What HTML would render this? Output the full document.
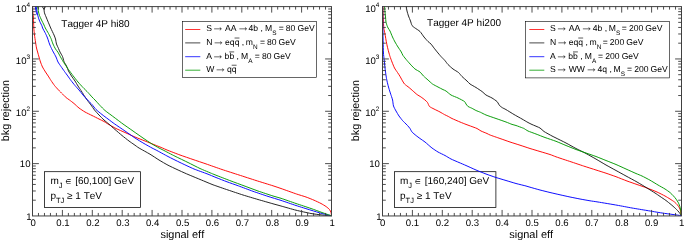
<!DOCTYPE html>
<html><head><meta charset="utf-8"><title>ROC</title>
<style>html,body{margin:0;padding:0;background:#fff;overflow:hidden}svg{display:block;will-change:transform}</style>
</head><body>
<svg width="685" height="240" viewBox="0 0 685 240" font-family="Liberation Sans, Arial, Helvetica, sans-serif" fill="#000" style="font-kerning:none;text-rendering:geometricPrecision">
<rect x="0" y="0" width="685" height="240" fill="#fff"/>
<rect x="44.50" y="171.70" width="96.00" height="35.80" fill="none" stroke="#000" stroke-width="0.75"/>
<clipPath id="c0"><rect x="32.00" y="6.10" width="300.00" height="210.35"/></clipPath>
<g clip-path="url(#c0)" fill="none" stroke-width="0.95" stroke-linejoin="round">
<path d="M32.60 6.00 C32.62 6.60 32.72 10.90 32.80 12.00 C32.88 13.10 33.30 15.40 33.40 17.00 C33.50 18.60 33.69 26.20 33.80 28.00 C33.91 29.80 34.33 33.60 34.50 35.00 C34.67 36.40 35.30 40.70 35.50 42.00 C35.70 43.30 36.29 47.00 36.50 48.00 C36.71 49.00 37.35 51.10 37.60 52.00 C37.85 52.90 38.71 56.00 39.00 57.00 C39.29 58.00 40.15 61.00 40.50 62.00 C40.85 63.00 42.00 66.00 42.50 67.00 C43.00 68.00 44.93 71.10 45.50 72.00 C46.07 72.90 47.65 75.15 48.20 76.00 C48.75 76.85 50.37 79.55 51.00 80.50 C51.63 81.45 53.75 84.55 54.50 85.50 C55.25 86.45 57.70 89.15 58.50 90.00 C59.30 90.85 61.75 93.25 62.50 94.00 C63.25 94.75 65.30 96.90 66.00 97.50 C66.70 98.10 68.70 99.40 69.50 100.00 C70.30 100.60 73.05 102.70 74.00 103.50 C74.95 104.30 77.90 107.15 79.00 108.00 C80.10 108.85 83.70 111.25 85.00 112.00 C86.30 112.75 90.60 114.80 92.00 115.50 C93.40 116.20 97.80 118.40 99.00 119.00 C100.20 119.60 103.15 121.03 104.00 121.50 C104.85 121.97 106.30 123.00 107.50 123.70 C108.70 124.40 114.25 127.62 116.00 128.50 C117.75 129.38 123.10 131.65 125.00 132.50 C126.90 133.35 133.00 136.15 135.00 137.00 C137.00 137.85 143.00 140.20 145.00 141.00 C147.00 141.80 153.25 144.30 155.00 145.00 C156.75 145.70 161.30 147.50 162.50 148.00 C163.70 148.50 165.25 149.30 167.00 150.00 C168.75 150.70 177.40 154.05 180.00 155.00 C182.60 155.95 190.40 158.61 193.00 159.50 C195.60 160.39 203.10 162.90 206.00 163.90 C208.90 164.90 218.70 168.39 222.00 169.50 C225.30 170.61 235.60 173.90 239.00 175.00 C242.40 176.10 252.60 179.42 256.00 180.50 C259.40 181.58 270.50 185.00 273.00 185.80 C275.50 186.60 278.65 187.68 281.00 188.50 C283.35 189.32 294.00 193.15 296.50 194.00 C299.00 194.85 304.25 196.38 306.00 197.00 C307.75 197.62 312.50 199.55 314.00 200.20 C315.50 200.85 319.80 202.87 321.00 203.50 C322.20 204.13 325.15 205.90 326.00 206.50 C326.85 207.10 329.00 208.90 329.50 209.50 C330.00 210.10 330.80 211.90 331.00 212.50 C331.20 213.10 331.45 215.20 331.50 215.50" stroke="#ff0000"/>
<path d="M45.6 6.0 L44.0 9.5 L42.0 6.0 M44.00 9.50 C44.05 9.85 44.25 12.15 44.50 13.00 C44.75 13.85 46.05 16.90 46.50 18.00 C46.95 19.10 48.58 23.00 49.00 24.00 C49.42 25.00 50.20 26.90 50.70 28.00 C51.20 29.10 53.52 33.90 54.00 35.00 C54.48 36.10 55.25 38.10 55.50 39.00 C55.75 39.90 56.20 43.05 56.50 44.00 C56.80 44.95 58.15 47.70 58.50 48.50 C58.85 49.30 59.60 51.20 60.00 52.00 C60.40 52.80 62.10 55.55 62.50 56.50 C62.90 57.45 63.60 60.55 64.00 61.50 C64.40 62.45 66.05 65.05 66.50 66.00 C66.95 66.95 68.00 70.00 68.50 71.00 C69.00 72.00 70.85 75.00 71.50 76.00 C72.15 77.00 74.35 80.00 75.00 81.00 C75.65 82.00 77.40 85.05 78.00 86.00 C78.60 86.95 80.45 89.65 81.00 90.50 C81.55 91.35 82.85 93.50 83.50 94.50 C84.15 95.50 86.75 99.45 87.50 100.50 C88.25 101.55 90.30 104.05 91.00 105.00 C91.70 105.95 93.70 109.00 94.50 110.00 C95.30 111.00 98.05 114.00 99.00 115.00 C99.95 116.00 103.02 119.10 104.00 120.00 C104.98 120.90 107.70 123.05 108.80 124.00 C109.90 124.95 113.68 128.35 115.00 129.50 C116.32 130.65 120.60 134.35 122.00 135.50 C123.40 136.65 127.80 140.10 129.00 141.00 C130.20 141.90 133.00 143.80 134.00 144.50 C135.00 145.20 137.40 147.03 139.00 148.00 C140.60 148.97 148.00 153.00 150.00 154.20 C152.00 155.40 157.20 158.90 159.00 160.00 C160.80 161.10 166.20 164.25 168.00 165.20 C169.80 166.15 175.15 168.64 177.00 169.50 C178.85 170.36 183.70 172.60 186.50 173.80 C189.30 175.00 202.35 180.40 205.00 181.50 C207.65 182.60 210.70 183.95 213.00 184.80 C215.30 185.65 225.00 188.98 228.00 190.00 C231.00 191.02 240.00 194.05 243.00 195.00 C246.00 195.95 255.00 198.62 258.00 199.50 C261.00 200.38 270.70 203.15 273.00 203.80 C275.30 204.45 278.70 205.36 281.00 206.00 C283.30 206.64 293.00 209.45 296.00 210.20 C299.00 210.95 308.40 213.02 311.00 213.50 C313.60 213.98 319.95 214.77 322.00 215.00 C324.05 215.23 330.55 215.72 331.50 215.80" stroke="#1a1a1a"/>
<path d="M36.30 6.00 C36.34 6.40 36.58 9.20 36.70 10.00 C36.82 10.80 37.32 13.20 37.50 14.00 C37.68 14.80 38.25 17.20 38.50 18.00 C38.75 18.80 39.65 21.20 40.00 22.00 C40.35 22.80 41.74 25.40 42.00 26.00 C42.26 26.60 42.25 27.25 42.60 28.00 C42.95 28.75 45.01 32.50 45.50 33.50 C45.99 34.50 47.10 36.95 47.50 38.00 C47.90 39.05 49.10 42.95 49.50 44.00 C49.90 45.05 51.12 47.70 51.50 48.50 C51.88 49.30 52.85 51.15 53.30 52.00 C53.75 52.85 55.53 56.00 56.00 57.00 C56.47 58.00 57.50 61.05 58.00 62.00 C58.50 62.95 60.35 65.55 61.00 66.50 C61.65 67.45 63.82 70.55 64.50 71.50 C65.18 72.45 67.15 75.10 67.80 76.00 C68.45 76.90 70.28 79.55 71.00 80.50 C71.72 81.45 74.20 84.55 75.00 85.50 C75.80 86.45 78.20 89.05 79.00 90.00 C79.80 90.95 82.15 94.00 83.00 95.00 C83.85 96.00 86.60 99.05 87.50 100.00 C88.40 100.95 91.15 103.55 92.00 104.50 C92.85 105.45 95.00 108.50 96.00 109.50 C97.00 110.50 100.80 113.55 102.00 114.50 C103.20 115.45 106.73 118.05 108.00 119.00 C109.27 119.95 113.00 122.80 114.70 124.00 C116.40 125.20 122.97 129.60 125.00 131.00 C127.03 132.40 133.10 136.75 135.00 138.00 C136.90 139.25 142.30 142.50 144.00 143.50 C145.70 144.50 150.80 147.35 152.00 148.00 C153.20 148.65 154.40 149.15 156.00 150.00 C157.60 150.85 165.60 155.25 168.00 156.50 C170.40 157.75 177.40 161.25 180.00 162.50 C182.60 163.75 191.30 167.87 194.00 169.00 C196.70 170.13 204.80 172.95 207.00 173.80 C209.20 174.65 214.00 176.70 216.00 177.50 C218.00 178.30 224.75 180.96 227.00 181.80 C229.25 182.64 235.90 184.95 238.50 185.90 C241.10 186.85 250.05 190.25 253.00 191.30 C255.95 192.35 265.20 195.49 268.00 196.40 C270.80 197.31 278.20 199.49 281.00 200.40 C283.80 201.31 293.00 204.52 296.00 205.50 C299.00 206.48 308.40 209.40 311.00 210.20 C313.60 211.00 319.95 212.94 322.00 213.50 C324.05 214.06 330.55 215.57 331.50 215.80" stroke="#0000ff"/>
<path d="M37.50 6.00 C37.60 6.60 38.30 11.05 38.50 12.00 C38.70 12.95 39.20 14.70 39.50 15.50 C39.80 16.30 41.05 19.05 41.50 20.00 C41.95 20.95 43.62 24.20 44.00 25.00 C44.38 25.80 44.85 27.15 45.30 28.00 C45.75 28.85 47.93 32.45 48.50 33.50 C49.07 34.55 50.55 37.45 51.00 38.50 C51.45 39.55 52.55 42.95 53.00 44.00 C53.45 45.05 55.02 48.20 55.50 49.00 C55.98 49.80 57.35 51.30 57.80 52.00 C58.25 52.70 59.53 55.15 60.00 56.00 C60.47 56.85 62.00 59.65 62.50 60.50 C63.00 61.35 64.40 63.60 65.00 64.50 C65.60 65.40 67.70 68.38 68.50 69.50 C69.30 70.62 72.05 74.45 73.00 75.70 C73.95 76.95 77.00 80.82 78.00 82.00 C79.00 83.18 82.00 86.45 83.00 87.50 C84.00 88.55 87.10 91.55 88.00 92.50 C88.90 93.45 91.30 96.25 92.00 97.00 C92.70 97.75 94.20 99.15 95.00 100.00 C95.80 100.85 99.00 104.45 100.00 105.50 C101.00 106.55 103.90 109.55 105.00 110.50 C106.10 111.45 109.80 114.10 111.00 115.00 C112.20 115.90 115.80 118.60 117.00 119.50 C118.20 120.40 121.40 122.85 123.00 124.00 C124.60 125.15 131.00 129.60 133.00 131.00 C135.00 132.40 141.10 136.70 143.00 138.00 C144.90 139.30 150.40 143.00 152.00 144.00 C153.60 145.00 157.90 147.40 159.00 148.00 C160.10 148.60 161.40 149.18 163.00 150.00 C164.60 150.82 172.50 154.95 175.00 156.20 C177.50 157.45 185.50 161.27 188.00 162.50 C190.50 163.73 197.55 167.37 200.00 168.50 C202.45 169.63 210.70 173.05 212.50 173.80 C214.30 174.55 216.15 175.28 218.00 176.00 C219.85 176.72 228.40 180.02 231.00 181.00 C233.60 181.98 241.30 184.80 244.00 185.80 C246.70 186.80 255.10 189.98 258.00 191.00 C260.90 192.02 270.70 195.27 273.00 196.00 C275.30 196.73 278.70 197.55 281.00 198.30 C283.30 199.05 293.00 202.48 296.00 203.50 C299.00 204.52 308.40 207.60 311.00 208.50 C313.60 209.40 319.95 211.77 322.00 212.50 C324.05 213.23 330.55 215.47 331.50 215.80" stroke="#009900"/>
<path d="M35.3 6 L35.6 9 L36.4 12.5 L37.3 15" stroke="#0000ff"/>
</g>
<rect x="32.50" y="6.60" width="299.00" height="209.35" fill="none" stroke="#404040" stroke-width="1"/>
<path d="M38.48 215.95 v-3.00 M38.48 6.60 v3.00 M44.46 215.95 v-3.00 M44.46 6.60 v3.00 M50.44 215.95 v-3.00 M50.44 6.60 v3.00 M56.42 215.95 v-3.00 M56.42 6.60 v3.00 M62.40 215.95 v-6.00 M62.40 6.60 v6.00 M68.38 215.95 v-3.00 M68.38 6.60 v3.00 M74.36 215.95 v-3.00 M74.36 6.60 v3.00 M80.34 215.95 v-3.00 M80.34 6.60 v3.00 M86.32 215.95 v-3.00 M86.32 6.60 v3.00 M92.30 215.95 v-6.00 M92.30 6.60 v6.00 M98.28 215.95 v-3.00 M98.28 6.60 v3.00 M104.26 215.95 v-3.00 M104.26 6.60 v3.00 M110.24 215.95 v-3.00 M110.24 6.60 v3.00 M116.22 215.95 v-3.00 M116.22 6.60 v3.00 M122.20 215.95 v-6.00 M122.20 6.60 v6.00 M128.18 215.95 v-3.00 M128.18 6.60 v3.00 M134.16 215.95 v-3.00 M134.16 6.60 v3.00 M140.14 215.95 v-3.00 M140.14 6.60 v3.00 M146.12 215.95 v-3.00 M146.12 6.60 v3.00 M152.10 215.95 v-6.00 M152.10 6.60 v6.00 M158.08 215.95 v-3.00 M158.08 6.60 v3.00 M164.06 215.95 v-3.00 M164.06 6.60 v3.00 M170.04 215.95 v-3.00 M170.04 6.60 v3.00 M176.02 215.95 v-3.00 M176.02 6.60 v3.00 M182.00 215.95 v-6.00 M182.00 6.60 v6.00 M187.98 215.95 v-3.00 M187.98 6.60 v3.00 M193.96 215.95 v-3.00 M193.96 6.60 v3.00 M199.94 215.95 v-3.00 M199.94 6.60 v3.00 M205.92 215.95 v-3.00 M205.92 6.60 v3.00 M211.90 215.95 v-6.00 M211.90 6.60 v6.00 M217.88 215.95 v-3.00 M217.88 6.60 v3.00 M223.86 215.95 v-3.00 M223.86 6.60 v3.00 M229.84 215.95 v-3.00 M229.84 6.60 v3.00 M235.82 215.95 v-3.00 M235.82 6.60 v3.00 M241.80 215.95 v-6.00 M241.80 6.60 v6.00 M247.78 215.95 v-3.00 M247.78 6.60 v3.00 M253.76 215.95 v-3.00 M253.76 6.60 v3.00 M259.74 215.95 v-3.00 M259.74 6.60 v3.00 M265.72 215.95 v-3.00 M265.72 6.60 v3.00 M271.70 215.95 v-6.00 M271.70 6.60 v6.00 M277.68 215.95 v-3.00 M277.68 6.60 v3.00 M283.66 215.95 v-3.00 M283.66 6.60 v3.00 M289.64 215.95 v-3.00 M289.64 6.60 v3.00 M295.62 215.95 v-3.00 M295.62 6.60 v3.00 M301.60 215.95 v-6.00 M301.60 6.60 v6.00 M307.58 215.95 v-3.00 M307.58 6.60 v3.00 M313.56 215.95 v-3.00 M313.56 6.60 v3.00 M319.54 215.95 v-3.00 M319.54 6.60 v3.00 M325.52 215.95 v-3.00 M325.52 6.60 v3.00 M32.50 200.19 h3.30 M331.50 200.19 h-3.30 M32.50 190.98 h3.30 M331.50 190.98 h-3.30 M32.50 184.44 h3.30 M331.50 184.44 h-3.30 M32.50 179.37 h3.30 M331.50 179.37 h-3.30 M32.50 175.22 h3.30 M331.50 175.22 h-3.30 M32.50 171.72 h3.30 M331.50 171.72 h-3.30 M32.50 168.68 h3.30 M331.50 168.68 h-3.30 M32.50 166.01 h3.30 M331.50 166.01 h-3.30 M32.50 163.61 h6.40 M331.50 163.61 h-6.40 M32.50 147.86 h3.30 M331.50 147.86 h-3.30 M32.50 138.64 h3.30 M331.50 138.64 h-3.30 M32.50 132.10 h3.30 M331.50 132.10 h-3.30 M32.50 127.03 h3.30 M331.50 127.03 h-3.30 M32.50 122.89 h3.30 M331.50 122.89 h-3.30 M32.50 119.38 h3.30 M331.50 119.38 h-3.30 M32.50 116.35 h3.30 M331.50 116.35 h-3.30 M32.50 113.67 h3.30 M331.50 113.67 h-3.30 M32.50 111.27 h6.40 M331.50 111.27 h-6.40 M32.50 95.52 h3.30 M331.50 95.52 h-3.30 M32.50 86.30 h3.30 M331.50 86.30 h-3.30 M32.50 79.76 h3.30 M331.50 79.76 h-3.30 M32.50 74.69 h3.30 M331.50 74.69 h-3.30 M32.50 70.55 h3.30 M331.50 70.55 h-3.30 M32.50 67.04 h3.30 M331.50 67.04 h-3.30 M32.50 64.01 h3.30 M331.50 64.01 h-3.30 M32.50 61.33 h3.30 M331.50 61.33 h-3.30 M32.50 58.94 h6.40 M331.50 58.94 h-6.40 M32.50 43.18 h3.30 M331.50 43.18 h-3.30 M32.50 33.97 h3.30 M331.50 33.97 h-3.30 M32.50 27.43 h3.30 M331.50 27.43 h-3.30 M32.50 22.36 h3.30 M331.50 22.36 h-3.30 M32.50 18.21 h3.30 M331.50 18.21 h-3.30 M32.50 14.71 h3.30 M331.50 14.71 h-3.30 M32.50 11.67 h3.30 M331.50 11.67 h-3.30 M32.50 8.99 h3.30 M331.50 8.99 h-3.30" stroke="#3a3a3a" stroke-width="0.9" fill="none"/>
<text x="33.10" y="226.4" font-size="9.6" text-anchor="middle">0</text>
<text x="63.00" y="226.4" font-size="9.6" text-anchor="middle">0.1</text>
<text x="92.90" y="226.4" font-size="9.6" text-anchor="middle">0.2</text>
<text x="122.80" y="226.4" font-size="9.6" text-anchor="middle">0.3</text>
<text x="152.70" y="226.4" font-size="9.6" text-anchor="middle">0.4</text>
<text x="182.60" y="226.4" font-size="9.6" text-anchor="middle">0.5</text>
<text x="212.50" y="226.4" font-size="9.6" text-anchor="middle">0.6</text>
<text x="242.40" y="226.4" font-size="9.6" text-anchor="middle">0.7</text>
<text x="272.30" y="226.4" font-size="9.6" text-anchor="middle">0.8</text>
<text x="302.20" y="226.4" font-size="9.6" text-anchor="middle">0.9</text>
<text x="332.10" y="226.4" font-size="9.6" text-anchor="middle">1</text>
<text x="31.50" y="219.85" font-size="9.6" text-anchor="end">1</text>
<text x="30.50" y="167.01" font-size="9.6" text-anchor="end">10</text>
<text x="26.50" y="116.17" font-size="9.6" text-anchor="end">10</text>
<text x="26.50" y="111.17" font-size="6.4" text-anchor="start">2</text>
<text x="26.50" y="63.84" font-size="9.6" text-anchor="end">10</text>
<text x="26.50" y="58.84" font-size="6.4" text-anchor="start">3</text>
<text x="26.50" y="11.50" font-size="9.6" text-anchor="end">10</text>
<text x="26.50" y="6.50" font-size="6.4" text-anchor="start">4</text>
<text x="182.30" y="238.0" font-size="10.95" text-anchor="middle">signal eff</text>
<text transform="translate(9.40,110.6) rotate(-90)" font-size="10.8" text-anchor="middle">bkg rejection</text>
<rect x="394.50" y="171.70" width="101.40" height="35.80" fill="none" stroke="#000" stroke-width="0.75"/>
<clipPath id="c1"><rect x="382.00" y="6.10" width="300.00" height="210.35"/></clipPath>
<g clip-path="url(#c1)" fill="none" stroke-width="0.95" stroke-linejoin="round">
<path d="M382.90 6.00 C382.94 7.30 383.21 16.80 383.30 19.00 C383.39 21.20 383.63 26.50 383.80 28.00 C383.97 29.50 384.78 32.80 385.00 34.00 C385.22 35.20 385.78 38.80 386.00 40.00 C386.22 41.20 386.93 44.80 387.20 46.00 C387.47 47.20 388.42 50.95 388.70 52.00 C388.98 53.05 389.67 55.50 390.00 56.50 C390.33 57.50 391.55 60.85 392.00 62.00 C392.45 63.15 393.95 66.95 394.50 68.00 C395.05 69.05 396.97 71.70 397.50 72.50 C398.03 73.30 399.35 75.25 399.80 76.00 C400.25 76.75 401.53 79.20 402.00 80.00 C402.47 80.80 403.80 83.25 404.50 84.00 C405.20 84.75 408.15 86.80 409.00 87.50 C409.85 88.20 412.20 90.30 413.00 91.00 C413.80 91.70 416.20 93.90 417.00 94.50 C417.80 95.10 420.20 96.45 421.00 97.00 C421.80 97.55 424.35 99.45 425.00 100.00 C425.65 100.55 427.05 101.85 427.50 102.50 C427.95 103.15 428.85 105.85 429.50 106.50 C430.15 107.15 432.95 108.45 434.00 109.00 C435.05 109.55 438.95 111.44 440.00 112.00 C441.05 112.56 443.70 114.17 444.50 114.60 C445.30 115.03 447.25 115.91 448.00 116.30 C448.75 116.69 450.80 117.93 452.00 118.50 C453.20 119.07 458.60 121.41 460.00 122.00 C461.40 122.59 465.10 124.05 466.00 124.40 C466.90 124.75 467.90 125.09 469.00 125.50 C470.10 125.91 475.80 127.95 477.00 128.50 C478.20 129.05 480.00 130.50 481.00 131.00 C482.00 131.50 486.10 133.10 487.00 133.50 C487.90 133.90 488.70 134.50 490.00 135.00 C491.30 135.50 498.00 137.80 500.00 138.50 C502.00 139.20 508.00 141.33 510.00 142.00 C512.00 142.67 518.00 144.55 520.00 145.20 C522.00 145.85 528.00 147.87 530.00 148.50 C532.00 149.13 538.00 150.90 540.00 151.50 C542.00 152.10 548.40 153.97 550.00 154.50 C551.60 155.03 554.60 156.30 556.00 156.80 C557.40 157.30 562.50 159.00 564.00 159.50 C565.50 160.00 569.05 161.15 571.00 161.80 C572.95 162.45 581.00 165.18 583.50 166.00 C586.00 166.82 593.75 169.28 596.00 170.00 C598.25 170.72 604.00 172.53 606.00 173.20 C608.00 173.87 613.90 175.92 616.00 176.70 C618.10 177.48 624.90 180.22 627.00 181.00 C629.10 181.78 635.00 183.80 637.00 184.50 C639.00 185.20 645.00 187.25 647.00 188.00 C649.00 188.75 655.20 191.20 657.00 192.00 C658.80 192.80 663.70 195.30 665.00 196.00 C666.30 196.70 669.05 198.40 670.00 199.00 C670.95 199.60 673.75 201.40 674.50 202.00 C675.25 202.60 677.00 204.40 677.50 205.00 C678.00 205.60 679.20 207.40 679.50 208.00 C679.80 208.60 680.34 210.30 680.50 211.00 C680.66 211.70 681.04 214.60 681.10 215.00" stroke="#ff0000"/>
<path d="M406.20 6.00 C406.28 6.50 406.77 10.00 407.00 11.00 C407.23 12.00 408.15 15.00 408.50 16.00 C408.85 17.00 410.15 20.05 410.50 21.00 C410.85 21.95 411.58 24.82 412.00 25.50 C412.42 26.18 413.90 27.20 414.70 27.80 C415.50 28.40 419.07 30.58 420.00 31.50 C420.93 32.42 423.20 36.00 424.00 37.00 C424.80 38.00 427.30 40.80 428.00 41.50 C428.70 42.20 430.40 43.35 431.00 44.00 C431.60 44.65 433.38 47.20 434.00 48.00 C434.62 48.80 436.50 51.15 437.20 52.00 C437.90 52.85 440.25 55.67 441.00 56.50 C441.75 57.33 444.00 59.50 444.70 60.30 C445.40 61.10 447.17 63.63 448.00 64.50 C448.83 65.37 451.95 68.20 453.00 69.00 C454.05 69.80 457.60 71.75 458.50 72.50 C459.40 73.25 461.15 75.65 462.00 76.50 C462.85 77.35 466.20 80.25 467.00 81.00 C467.80 81.75 469.10 83.35 470.00 84.00 C470.90 84.65 474.80 86.75 476.00 87.50 C477.20 88.25 481.00 90.75 482.00 91.50 C483.00 92.25 485.00 94.35 486.00 95.00 C487.00 95.65 490.90 97.35 492.00 98.00 C493.10 98.65 496.33 100.88 497.00 101.50 C497.67 102.12 498.42 103.77 498.70 104.20 C498.98 104.63 499.42 105.44 499.80 105.80 C500.18 106.16 501.88 107.42 502.50 107.80 C503.12 108.18 504.85 108.93 506.00 109.60 C507.15 110.27 512.40 113.56 514.00 114.50 C515.60 115.44 520.60 118.20 522.00 119.00 C523.40 119.80 527.00 121.95 528.00 122.50 C529.00 123.05 530.80 123.95 532.00 124.50 C533.20 125.05 538.80 127.30 540.00 128.00 C541.20 128.70 542.80 130.70 544.00 131.50 C545.20 132.30 550.80 135.35 552.00 136.00 C553.20 136.65 554.60 137.30 556.00 138.00 C557.40 138.70 564.00 141.95 566.00 143.00 C568.00 144.05 574.00 147.45 576.00 148.50 C578.00 149.55 584.00 152.44 586.00 153.50 C588.00 154.56 594.00 157.95 596.00 159.10 C598.00 160.25 604.00 163.86 606.00 165.00 C608.00 166.14 614.00 169.40 616.00 170.50 C618.00 171.60 623.90 174.85 626.00 176.00 C628.10 177.15 634.90 180.80 637.00 182.00 C639.10 183.20 645.20 186.90 647.00 188.00 C648.80 189.10 653.70 192.16 655.00 193.00 C656.30 193.84 658.90 195.65 660.00 196.40 C661.10 197.15 664.90 199.69 666.00 200.50 C667.10 201.31 670.10 203.75 671.00 204.50 C671.90 205.25 674.30 207.35 675.00 208.00 C675.70 208.65 677.50 210.45 678.00 211.00 C678.50 211.55 679.68 213.04 680.00 213.50 C680.32 213.96 681.08 215.39 681.20 215.60" stroke="#1a1a1a"/>
<path d="M382.60 6.00 C382.63 8.20 382.82 23.40 382.90 28.00 C382.98 32.60 383.27 48.80 383.40 52.00 C383.53 55.20 384.04 58.40 384.20 60.00 C384.36 61.60 384.81 66.40 385.00 68.00 C385.19 69.60 385.90 74.70 386.10 76.00 C386.30 77.30 386.76 79.90 387.00 81.00 C387.24 82.10 388.20 85.90 388.50 87.00 C388.80 88.10 389.70 91.05 390.00 92.00 C390.30 92.95 391.24 95.70 391.50 96.50 C391.76 97.30 392.40 99.05 392.60 100.00 C392.80 100.95 393.16 104.90 393.50 106.00 C393.84 107.10 395.45 110.00 396.00 111.00 C396.55 112.00 398.35 115.05 399.00 116.00 C399.65 116.95 401.94 119.84 402.50 120.50 C403.06 121.16 404.10 122.10 404.60 122.60 C405.10 123.10 406.96 124.91 407.50 125.50 C408.04 126.09 409.55 127.85 410.00 128.50 C410.45 129.15 411.40 131.30 412.00 132.00 C412.60 132.70 415.20 134.85 416.00 135.50 C416.80 136.15 419.10 137.85 420.00 138.50 C420.90 139.15 424.20 141.39 425.00 142.00 C425.80 142.61 427.30 144.00 428.00 144.60 C428.70 145.20 431.00 147.26 432.00 148.00 C433.00 148.74 436.70 151.25 438.00 152.00 C439.30 152.75 443.70 154.80 445.00 155.50 C446.30 156.20 449.60 158.30 451.00 159.00 C452.40 159.70 457.50 161.85 459.00 162.50 C460.50 163.15 464.30 164.75 466.00 165.50 C467.70 166.25 474.00 169.15 476.00 170.00 C478.00 170.85 484.00 173.25 486.00 174.00 C488.00 174.75 494.00 176.85 496.00 177.50 C498.00 178.15 504.00 179.90 506.00 180.50 C508.00 181.10 514.00 182.95 516.00 183.50 C518.00 184.05 524.60 185.63 526.00 186.00 C527.40 186.37 528.60 186.80 530.00 187.20 C531.40 187.60 538.00 189.47 540.00 190.00 C542.00 190.53 548.00 192.02 550.00 192.50 C552.00 192.98 558.00 194.35 560.00 194.80 C562.00 195.25 568.00 196.58 570.00 197.00 C572.00 197.42 578.00 198.62 580.00 199.00 C582.00 199.38 588.20 200.50 590.00 200.80 C591.80 201.10 595.30 201.56 598.00 202.00 C600.70 202.44 613.60 204.60 617.00 205.20 C620.40 205.80 629.00 207.47 632.00 208.00 C635.00 208.53 644.00 210.00 647.00 210.50 C650.00 211.00 659.40 212.60 662.00 213.00 C664.60 213.40 671.10 214.24 673.00 214.50 C674.90 214.76 680.20 215.49 681.00 215.60" stroke="#0000ff"/>
<path d="M384.50 6.00 C384.55 6.60 384.90 10.90 385.00 12.00 C385.10 13.10 385.40 16.00 385.50 17.00 C385.60 18.00 385.85 21.15 386.00 22.00 C386.15 22.85 386.79 24.90 387.00 25.50 C387.21 26.10 387.80 27.45 388.10 28.00 C388.40 28.55 389.56 30.10 390.00 31.00 C390.44 31.90 392.00 35.90 392.50 37.00 C393.00 38.10 394.45 41.00 395.00 42.00 C395.55 43.00 397.37 46.00 398.00 47.00 C398.63 48.00 400.80 51.15 401.30 52.00 C401.80 52.85 402.43 54.65 403.00 55.50 C403.57 56.35 406.20 59.55 407.00 60.50 C407.80 61.45 410.20 64.15 411.00 65.00 C411.80 65.85 414.10 68.30 415.00 69.00 C415.90 69.70 419.15 71.30 420.00 72.00 C420.85 72.70 422.70 75.20 423.50 76.00 C424.30 76.80 427.10 79.20 428.00 80.00 C428.90 80.80 431.50 83.30 432.50 84.00 C433.50 84.70 436.95 86.44 438.00 87.00 C439.05 87.56 442.20 89.20 443.00 89.60 C443.80 90.00 445.20 90.46 446.00 91.00 C446.80 91.54 449.80 94.30 451.00 95.00 C452.20 95.70 456.65 97.35 458.00 98.00 C459.35 98.65 463.70 100.90 464.50 101.50 C465.30 102.10 465.67 103.52 466.00 104.00 C466.33 104.48 467.50 106.00 467.80 106.30 C468.10 106.60 468.58 106.80 469.00 107.00 C469.42 107.20 471.30 107.95 472.00 108.30 C472.70 108.65 475.15 110.10 476.00 110.50 C476.85 110.90 479.50 111.85 480.50 112.30 C481.50 112.75 484.45 114.38 486.00 115.00 C487.55 115.62 494.00 117.80 496.00 118.50 C498.00 119.20 504.40 121.41 506.00 122.00 C507.60 122.59 511.00 124.05 512.00 124.40 C513.00 124.75 514.95 125.15 516.00 125.50 C517.05 125.85 521.70 127.60 522.50 127.90 C523.30 128.20 523.45 128.19 524.00 128.50 C524.55 128.81 526.80 130.45 528.00 131.00 C529.20 131.55 534.30 133.35 536.00 134.00 C537.70 134.65 543.00 136.77 545.00 137.50 C547.00 138.23 553.90 140.50 556.00 141.30 C558.10 142.10 564.00 144.68 566.00 145.50 C568.00 146.32 574.00 148.75 576.00 149.50 C578.00 150.25 584.00 152.30 586.00 153.00 C588.00 153.70 594.00 155.75 596.00 156.50 C598.00 157.25 604.00 159.70 606.00 160.50 C608.00 161.30 614.00 163.65 616.00 164.50 C618.00 165.35 624.00 168.10 626.00 169.00 C628.00 169.90 634.40 172.80 636.00 173.50 C637.60 174.20 640.60 175.33 642.00 176.00 C643.40 176.67 648.40 179.30 650.00 180.20 C651.60 181.10 656.50 184.12 658.00 185.00 C659.50 185.88 663.80 188.25 665.00 189.00 C666.20 189.75 669.15 191.80 670.00 192.50 C670.85 193.20 672.90 195.35 673.50 196.00 C674.10 196.65 675.50 198.30 676.00 199.00 C676.50 199.70 678.10 202.20 678.50 203.00 C678.90 203.80 679.77 206.20 680.00 207.00 C680.23 207.80 680.68 210.20 680.80 211.00 C680.92 211.80 681.16 214.60 681.20 215.00" stroke="#009900"/>
</g>
<rect x="382.50" y="6.60" width="299.00" height="209.35" fill="none" stroke="#404040" stroke-width="1"/>
<path d="M388.48 215.95 v-3.00 M388.48 6.60 v3.00 M394.46 215.95 v-3.00 M394.46 6.60 v3.00 M400.44 215.95 v-3.00 M400.44 6.60 v3.00 M406.42 215.95 v-3.00 M406.42 6.60 v3.00 M412.40 215.95 v-6.00 M412.40 6.60 v6.00 M418.38 215.95 v-3.00 M418.38 6.60 v3.00 M424.36 215.95 v-3.00 M424.36 6.60 v3.00 M430.34 215.95 v-3.00 M430.34 6.60 v3.00 M436.32 215.95 v-3.00 M436.32 6.60 v3.00 M442.30 215.95 v-6.00 M442.30 6.60 v6.00 M448.28 215.95 v-3.00 M448.28 6.60 v3.00 M454.26 215.95 v-3.00 M454.26 6.60 v3.00 M460.24 215.95 v-3.00 M460.24 6.60 v3.00 M466.22 215.95 v-3.00 M466.22 6.60 v3.00 M472.20 215.95 v-6.00 M472.20 6.60 v6.00 M478.18 215.95 v-3.00 M478.18 6.60 v3.00 M484.16 215.95 v-3.00 M484.16 6.60 v3.00 M490.14 215.95 v-3.00 M490.14 6.60 v3.00 M496.12 215.95 v-3.00 M496.12 6.60 v3.00 M502.10 215.95 v-6.00 M502.10 6.60 v6.00 M508.08 215.95 v-3.00 M508.08 6.60 v3.00 M514.06 215.95 v-3.00 M514.06 6.60 v3.00 M520.04 215.95 v-3.00 M520.04 6.60 v3.00 M526.02 215.95 v-3.00 M526.02 6.60 v3.00 M532.00 215.95 v-6.00 M532.00 6.60 v6.00 M537.98 215.95 v-3.00 M537.98 6.60 v3.00 M543.96 215.95 v-3.00 M543.96 6.60 v3.00 M549.94 215.95 v-3.00 M549.94 6.60 v3.00 M555.92 215.95 v-3.00 M555.92 6.60 v3.00 M561.90 215.95 v-6.00 M561.90 6.60 v6.00 M567.88 215.95 v-3.00 M567.88 6.60 v3.00 M573.86 215.95 v-3.00 M573.86 6.60 v3.00 M579.84 215.95 v-3.00 M579.84 6.60 v3.00 M585.82 215.95 v-3.00 M585.82 6.60 v3.00 M591.80 215.95 v-6.00 M591.80 6.60 v6.00 M597.78 215.95 v-3.00 M597.78 6.60 v3.00 M603.76 215.95 v-3.00 M603.76 6.60 v3.00 M609.74 215.95 v-3.00 M609.74 6.60 v3.00 M615.72 215.95 v-3.00 M615.72 6.60 v3.00 M621.70 215.95 v-6.00 M621.70 6.60 v6.00 M627.68 215.95 v-3.00 M627.68 6.60 v3.00 M633.66 215.95 v-3.00 M633.66 6.60 v3.00 M639.64 215.95 v-3.00 M639.64 6.60 v3.00 M645.62 215.95 v-3.00 M645.62 6.60 v3.00 M651.60 215.95 v-6.00 M651.60 6.60 v6.00 M657.58 215.95 v-3.00 M657.58 6.60 v3.00 M663.56 215.95 v-3.00 M663.56 6.60 v3.00 M669.54 215.95 v-3.00 M669.54 6.60 v3.00 M675.52 215.95 v-3.00 M675.52 6.60 v3.00 M382.50 200.19 h3.30 M681.50 200.19 h-3.30 M382.50 190.98 h3.30 M681.50 190.98 h-3.30 M382.50 184.44 h3.30 M681.50 184.44 h-3.30 M382.50 179.37 h3.30 M681.50 179.37 h-3.30 M382.50 175.22 h3.30 M681.50 175.22 h-3.30 M382.50 171.72 h3.30 M681.50 171.72 h-3.30 M382.50 168.68 h3.30 M681.50 168.68 h-3.30 M382.50 166.01 h3.30 M681.50 166.01 h-3.30 M382.50 163.61 h6.40 M681.50 163.61 h-6.40 M382.50 147.86 h3.30 M681.50 147.86 h-3.30 M382.50 138.64 h3.30 M681.50 138.64 h-3.30 M382.50 132.10 h3.30 M681.50 132.10 h-3.30 M382.50 127.03 h3.30 M681.50 127.03 h-3.30 M382.50 122.89 h3.30 M681.50 122.89 h-3.30 M382.50 119.38 h3.30 M681.50 119.38 h-3.30 M382.50 116.35 h3.30 M681.50 116.35 h-3.30 M382.50 113.67 h3.30 M681.50 113.67 h-3.30 M382.50 111.27 h6.40 M681.50 111.27 h-6.40 M382.50 95.52 h3.30 M681.50 95.52 h-3.30 M382.50 86.30 h3.30 M681.50 86.30 h-3.30 M382.50 79.76 h3.30 M681.50 79.76 h-3.30 M382.50 74.69 h3.30 M681.50 74.69 h-3.30 M382.50 70.55 h3.30 M681.50 70.55 h-3.30 M382.50 67.04 h3.30 M681.50 67.04 h-3.30 M382.50 64.01 h3.30 M681.50 64.01 h-3.30 M382.50 61.33 h3.30 M681.50 61.33 h-3.30 M382.50 58.94 h6.40 M681.50 58.94 h-6.40 M382.50 43.18 h3.30 M681.50 43.18 h-3.30 M382.50 33.97 h3.30 M681.50 33.97 h-3.30 M382.50 27.43 h3.30 M681.50 27.43 h-3.30 M382.50 22.36 h3.30 M681.50 22.36 h-3.30 M382.50 18.21 h3.30 M681.50 18.21 h-3.30 M382.50 14.71 h3.30 M681.50 14.71 h-3.30 M382.50 11.67 h3.30 M681.50 11.67 h-3.30 M382.50 8.99 h3.30 M681.50 8.99 h-3.30" stroke="#3a3a3a" stroke-width="0.9" fill="none"/>
<text x="382.60" y="226.4" font-size="9.6" text-anchor="middle">0</text>
<text x="412.50" y="226.4" font-size="9.6" text-anchor="middle">0.1</text>
<text x="442.40" y="226.4" font-size="9.6" text-anchor="middle">0.2</text>
<text x="472.30" y="226.4" font-size="9.6" text-anchor="middle">0.3</text>
<text x="502.20" y="226.4" font-size="9.6" text-anchor="middle">0.4</text>
<text x="532.10" y="226.4" font-size="9.6" text-anchor="middle">0.5</text>
<text x="562.00" y="226.4" font-size="9.6" text-anchor="middle">0.6</text>
<text x="591.90" y="226.4" font-size="9.6" text-anchor="middle">0.7</text>
<text x="621.80" y="226.4" font-size="9.6" text-anchor="middle">0.8</text>
<text x="651.70" y="226.4" font-size="9.6" text-anchor="middle">0.9</text>
<text x="681.60" y="226.4" font-size="9.6" text-anchor="middle">1</text>
<text x="381.50" y="219.85" font-size="9.6" text-anchor="end">1</text>
<text x="379.80" y="167.01" font-size="9.6" text-anchor="end">10</text>
<text x="375.80" y="116.17" font-size="9.6" text-anchor="end">10</text>
<text x="375.80" y="111.17" font-size="6.4" text-anchor="start">2</text>
<text x="375.80" y="63.84" font-size="9.6" text-anchor="end">10</text>
<text x="375.80" y="58.84" font-size="6.4" text-anchor="start">3</text>
<text x="375.80" y="11.50" font-size="9.6" text-anchor="end">10</text>
<text x="375.80" y="6.50" font-size="6.4" text-anchor="start">4</text>
<text x="531.20" y="238.0" font-size="10.95" text-anchor="middle">signal eff</text>
<text transform="translate(359.40,110.6) rotate(-90)" font-size="10.8" text-anchor="middle">bkg rejection</text>
<text x="61.3" y="27.0" font-size="10">Tagger 4P hi80</text>
<text x="427.1" y="25.8" font-size="10">Tagger 4P hi200</text>
<rect x="182.50" y="21.50" width="134.00" height="56.00" fill="none" stroke="#000" stroke-width="0.60"/>
<path d="M185.20 29.50 H200.30" stroke="#ff0000" stroke-width="0.80"/>
<text font-size="8.60" xml:space="preserve" style="white-space:pre"><tspan x="206.20" y="30.90">S </tspan><tspan x="211.59" y="30.90" font-size="12.90" fill="#3c3c3c">→</tspan><tspan x="222.64" y="30.90"> AA </tspan><tspan x="236.66" y="30.90" font-size="12.90" fill="#3c3c3c">→</tspan><tspan x="246.20" y="30.90"> 4b</tspan><tspan x="258.16" y="30.90"> , </tspan><tspan x="265.12" y="30.90">M</tspan><tspan x="272.29" y="34.60" font-size="6.45">S</tspan><tspan x="276.29" y="30.90"> = </tspan><tspan x="285.69" y="30.90">80</tspan><tspan x="295.16" y="30.90"> GeV</tspan></text>
<path d="M185.20 42.90 H200.30" stroke="#1a1a1a" stroke-width="0.80"/>
<text font-size="8.60" xml:space="preserve" style="white-space:pre"><tspan x="206.20" y="44.90">N </tspan><tspan x="212.07" y="44.90" font-size="12.90" fill="#3c3c3c">→</tspan><tspan x="222.71" y="44.90"> eq</tspan><tspan x="234.67" y="44.90">q</tspan><tspan x="239.45" y="44.90"> , </tspan><tspan x="245.82" y="44.90">m</tspan><tspan x="252.98" y="48.60" font-size="6.45">N</tspan><tspan x="257.54" y="44.90"> = </tspan><tspan x="267.04" y="44.90">80</tspan><tspan x="276.21" y="44.90"> GeV</tspan></text><path d="M234.57 38.02 h4.88" stroke="#000" stroke-width="0.65"/>
<path d="M185.20 56.70 H200.30" stroke="#0000ff" stroke-width="0.80"/>
<text font-size="8.60" xml:space="preserve" style="white-space:pre"><tspan x="206.20" y="58.80">A </tspan><tspan x="211.59" y="58.80" font-size="12.90" fill="#3c3c3c">→</tspan><tspan x="222.24" y="58.80"> b</tspan><tspan x="229.41" y="58.80">b</tspan><tspan x="234.19" y="58.80"> , </tspan><tspan x="241.06" y="58.80">M</tspan><tspan x="248.22" y="62.50" font-size="6.45">A</tspan><tspan x="252.43" y="58.80"> = </tspan><tspan x="261.93" y="58.80">80</tspan><tspan x="271.09" y="58.80"> GeV</tspan></text><path d="M229.31 51.92 h4.88" stroke="#000" stroke-width="0.65"/>
<path d="M185.20 70.20 H200.30" stroke="#009900" stroke-width="0.80"/>
<text font-size="8.60" xml:space="preserve" style="white-space:pre"><tspan x="206.20" y="72.10">W </tspan><tspan x="213.97" y="72.10" font-size="12.90" fill="#3c3c3c">→</tspan><tspan x="224.62" y="72.10"> q</tspan><tspan x="231.79" y="72.10">q</tspan></text><path d="M231.69 65.22 h4.88" stroke="#000" stroke-width="0.65"/>
<rect x="525.50" y="21.50" width="144.00" height="56.40" fill="none" stroke="#000" stroke-width="0.60"/>
<path d="M529.30 29.50 H544.30" stroke="#ff0000" stroke-width="0.80"/>
<text font-size="8.60" xml:space="preserve" style="white-space:pre"><tspan x="549.90" y="30.90">S </tspan><tspan x="555.29" y="30.90" font-size="12.90" fill="#3c3c3c">→</tspan><tspan x="566.34" y="30.90"> AA </tspan><tspan x="580.36" y="30.90" font-size="12.90" fill="#3c3c3c">→</tspan><tspan x="590.40" y="30.90"> 4b</tspan><tspan x="602.36" y="30.90"> , </tspan><tspan x="608.82" y="30.90">M</tspan><tspan x="615.99" y="34.60" font-size="6.45">S</tspan><tspan x="619.39" y="30.90"> = </tspan><tspan x="628.89" y="30.90">200</tspan><tspan x="642.94" y="30.90"> GeV</tspan></text>
<path d="M529.30 42.90 H544.30" stroke="#1a1a1a" stroke-width="0.80"/>
<text font-size="8.60" xml:space="preserve" style="white-space:pre"><tspan x="549.90" y="44.90">N </tspan><tspan x="555.77" y="44.90" font-size="12.90" fill="#3c3c3c">→</tspan><tspan x="566.41" y="44.90"> eq</tspan><tspan x="578.37" y="44.90">q</tspan><tspan x="583.15" y="44.90"> , </tspan><tspan x="589.52" y="44.90">m</tspan><tspan x="596.68" y="48.60" font-size="6.45">N</tspan><tspan x="600.34" y="44.90"> = </tspan><tspan x="609.84" y="44.90">200</tspan><tspan x="623.89" y="44.90"> GeV</tspan></text><path d="M578.27 38.02 h4.88" stroke="#000" stroke-width="0.65"/>
<path d="M529.30 56.70 H544.30" stroke="#0000ff" stroke-width="0.80"/>
<text font-size="8.60" xml:space="preserve" style="white-space:pre"><tspan x="549.90" y="58.80">A </tspan><tspan x="555.29" y="58.80" font-size="12.90" fill="#3c3c3c">→</tspan><tspan x="565.94" y="58.80"> b</tspan><tspan x="573.11" y="58.80">b</tspan><tspan x="577.89" y="58.80"> , </tspan><tspan x="584.76" y="58.80">M</tspan><tspan x="591.92" y="62.50" font-size="6.45">A</tspan><tspan x="595.73" y="58.80"> = </tspan><tspan x="605.23" y="58.80">200</tspan><tspan x="619.28" y="58.80"> GeV</tspan></text><path d="M573.01 51.92 h4.88" stroke="#000" stroke-width="0.65"/>
<path d="M529.30 70.20 H544.30" stroke="#009900" stroke-width="0.80"/>
<text font-size="8.60" xml:space="preserve" style="white-space:pre"><tspan x="549.90" y="72.10">S </tspan><tspan x="555.29" y="72.10" font-size="12.90" fill="#3c3c3c">→</tspan><tspan x="566.34" y="72.10"> WW </tspan><tspan x="585.12" y="72.10" font-size="12.90" fill="#3c3c3c">→</tspan><tspan x="595.16" y="72.10"> 4q</tspan><tspan x="607.12" y="72.10"> , </tspan><tspan x="613.59" y="72.10">M</tspan><tspan x="620.75" y="75.80" font-size="6.45">S</tspan><tspan x="624.65" y="72.10"> = </tspan><tspan x="634.15" y="72.10">200</tspan><tspan x="648.20" y="72.10"> GeV</tspan></text>
<text font-size="10.00" xml:space="preserve" style="white-space:pre"><tspan x="50.40" y="183.70">m</tspan><tspan x="58.73" y="188.00" font-size="7.50">J</tspan><tspan x="62.48" y="183.70"> </tspan><tspan x="65.26" y="183.60" font-family="DejaVu Sans, sans-serif" font-size="6.90">∈</tspan><tspan x="72.39" y="183.70"> [60,100] GeV</tspan></text>
<text font-size="10.00" xml:space="preserve" style="white-space:pre"><tspan x="50.40" y="199.00">p</tspan><tspan x="55.96" y="203.30" font-size="7.50">TJ</tspan><tspan x="64.29" y="199.00"> ≥ 1 TeV</tspan></text>
<text font-size="10.00" xml:space="preserve" style="white-space:pre"><tspan x="400.00" y="183.70">m</tspan><tspan x="408.33" y="188.00" font-size="7.50">J</tspan><tspan x="412.08" y="183.70"> </tspan><tspan x="414.86" y="183.60" font-family="DejaVu Sans, sans-serif" font-size="6.90">∈</tspan><tspan x="421.99" y="183.70"> [160,240] GeV</tspan></text>
<text font-size="10.00" xml:space="preserve" style="white-space:pre"><tspan x="400.00" y="199.00">p</tspan><tspan x="405.56" y="203.30" font-size="7.50">TJ</tspan><tspan x="413.89" y="199.00"> ≥ 1 TeV</tspan></text>
</svg>
</body></html>
